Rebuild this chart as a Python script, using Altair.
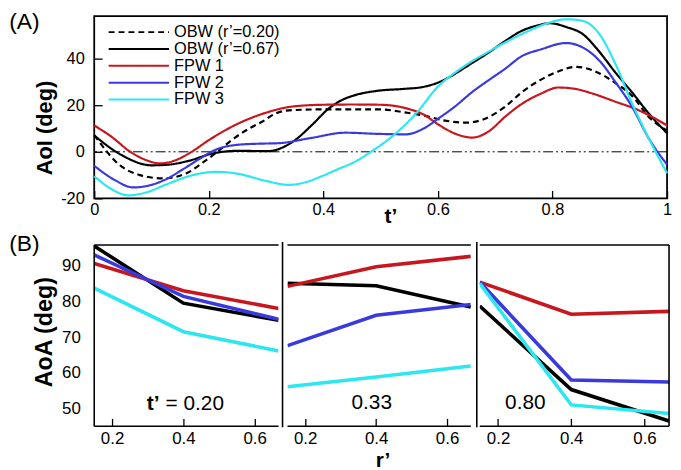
import altair as alt
import pandas as pd

FONT = "Liberation Sans"

# ---------------- Panel A: AoI vs t' ----------------
series_names = ["OBW (r’=0.20)", "OBW (r’=0.67)", "FPW 1", "FPW 2", "FPW 3"]
series_colors = ["#000000", "#000000", "#c8161e", "#3a3adc", "#2ce6f0"]
series_dashes = [[6, 4], [1, 0], [1, 0], [1, 0], [1, 0]]

obw020_t = [0, 0.047, 0.08, 0.12, 0.163, 0.19, 0.215, 0.244, 0.27, 0.293, 0.317, 0.34, 0.4, 0.45, 0.5,
            0.54, 0.573, 0.61, 0.648, 0.68, 0.717, 0.746, 0.78, 0.81, 0.841, 0.87, 0.91, 0.939, 0.968, 1.0]
obw020_v = [7.2, -6.2, -10, -11.4, -9, -4.5, 0, 5.8, 9.9, 12.9, 16.5, 17.8, 18.2, 18.2, 18.2,
            17, 15.7, 13.5, 12.5, 14, 19.3, 25.5, 31, 34.5, 36.5, 35, 29.5, 24, 15, 9]

obw067_t = [0, 0.047, 0.1, 0.13, 0.163, 0.209, 0.25, 0.305, 0.33, 0.351, 0.38, 0.409, 0.433, 0.455, 0.495,
            0.54, 0.573, 0.602, 0.63, 0.648, 0.689, 0.72, 0.746, 0.77, 0.795, 0.825, 0.853, 0.88, 0.91,
            0.939, 0.968, 1.0]
obw067_v = [7, -1.3, -5.8, -5.5, -4, -0.6, 0.4, 0.3, 2, 5.1, 11.5, 18.5, 22.3, 24.3, 26.2,
            27, 27.8, 29.9, 33.5, 36.3, 42.7, 48, 51.9, 54, 55.2, 53.5, 50.5, 43.5, 34,
            25.5, 16.5, 8]

fpw1_t = [0, 0.03, 0.063, 0.09, 0.115, 0.14, 0.17, 0.2, 0.242, 0.3, 0.345, 0.4, 0.45, 0.5, 0.544,
          0.575, 0.602, 0.63, 0.66, 0.69, 0.717, 0.746, 0.78, 0.81, 0.84, 0.87, 0.91, 0.945, 0.97, 1.0]
fpw1_v = [11.3, 6.5, 0, -3.5, -5, -3.8, 0, 5, 11, 16.8, 19.4, 20.2, 20.3, 20.2, 18.7,
          16, 11.5, 7.8, 6.1, 9, 15, 20.5, 25, 27.6, 27, 25, 21.5, 18.4, 15.5, 11.3]

fpw2_t = [0, 0.035, 0.068, 0.1, 0.126, 0.155, 0.184, 0.213, 0.25, 0.29, 0.322, 0.38, 0.438, 0.495, 0.544,
          0.575, 0.602, 0.63, 0.66, 0.69, 0.717, 0.746, 0.78, 0.824, 0.855, 0.882, 0.91, 0.939, 0.968, 1.0]
fpw2_v = [-6, -12, -15.3, -14.2, -11.7, -7.5, -3, 1, 3, 3.5, 3.7, 6, 8.2, 7.7, 7.5,
          10, 14.5, 19.5, 25.7, 31, 35.6, 41, 44, 46.7, 44.5, 39.1, 29.9, 19.3, 5.8, -5.5]

fpw3_t = [0, 0.03, 0.06, 0.09, 0.126, 0.165, 0.213, 0.25, 0.3, 0.34, 0.37, 0.397, 0.425, 0.455, 0.483,
          0.524, 0.562, 0.602, 0.63, 0.66, 0.69, 0.717, 0.746, 0.77, 0.795, 0.824, 0.853, 0.882, 0.91,
          0.939, 0.968, 1.0]
fpw3_v = [-10.5, -16, -18.7, -17.5, -14, -10.5, -8.6, -9.4, -12.5, -14.2, -13, -10.5, -7.5, -4.3, 0,
          7.4, 16.5, 28.5, 34, 39, 43.2, 46.9, 50.5, 53.2, 55.5, 56.9, 56.2, 50.5, 37.7,
          20.7, 5.8, -9.2]

top_x_ticks = [0, 0.2, 0.4, 0.6, 0.8, 1]
top_y_ticks = [-20, 0, 20, 40]

# ---------------- Panel B: AoA vs r' ----------------
rprime = [0.15, 0.4, 0.667]
bottom_groups = ["OBW", "FPW 1", "FPW 2", "FPW 3"]
bottom_colors = ["#000000", "#c8161e", "#3a3adc", "#2ce6f0"]
panel_keys = ["0.20", "0.33", "0.80"]

aoa_020 = {"OBW": [95.5, 79.5, 74.7], "FPW 1": [90.6, 83.0, 78.0],
           "FPW 2": [93.0, 81.4, 75.0], "FPW 3": [83.7, 71.5, 66.1]}
aoa_033 = {"OBW": [85.1, 84.4, 78.4], "FPW 1": [84.2, 89.7, 92.6],
           "FPW 2": [67.6, 76.1, 79.1], "FPW 3": [56.1, 58.8, 61.9]}
aoa_080 = {"OBW": [78.7, 55.3, 46.5], "FPW 1": [85.4, 76.4, 77.2],
           "FPW 2": [85.4, 58.0, 57.4], "FPW 3": [85.0, 51.0, 48.6]}
bottom_x_ticks = [0.2, 0.4, 0.6]
bottom_y_ticks = [50, 60, 70, 80, 90]

# ---------------- tables ----------------
rows = []
for name, ts, vs in zip(series_names, [obw020_t, obw067_t, fpw1_t, fpw2_t, fpw3_t],
                        [obw020_v, obw067_v, fpw1_v, fpw2_v, fpw3_v]):
    for t, v in zip(ts, vs):
        rows.append({"series": name, "t": t, "v": v})
df_top = pd.DataFrame(rows)

brows = []
for key, dct in zip(panel_keys, [aoa_020, aoa_033, aoa_080]):
    for g in bottom_groups:
        for r, a in zip(rprime, dct[g]):
            brows.append({"panel": key, "grp": g, "r": r, "a": a})
df_bot = pd.DataFrame(brows)

one = pd.DataFrame({"k": [0]})

# ---------------- top chart ----------------
W_TOP, H_TOP = 578, 184

# long horizontal legend stroke drawn as a custom path (small symbol box keeps rows compact)
leg = alt.Legend(orient="none", legendX=60, legendY=8, title=None,
                 symbolType="M-17.9,0H2.4", symbolSize=36, symbolStrokeWidth=2,
                 symbolFillColor="transparent",
                 labelFontSize=16.5, labelFont=FONT, labelOffset=4, rowPadding=0, padding=0,
                 labelLimit=300, labelColor="black")

top_lines = alt.Chart(df_top).mark_line(strokeWidth=2.2, interpolate="monotone").encode(
    x=alt.X("t:Q", title=None,
            scale=alt.Scale(domain=[0, 1], nice=False, zero=False),
            axis=alt.Axis(values=top_x_ticks, domain=False, grid=False, tickSize=8, offset=-8,
                          labelPadding=3, labelFontSize=16.5, labelFlush=False,
                          labelExpr="datum.value + ''")),
    y=alt.Y("v:Q", title=None,
            scale=alt.Scale(domain=[-20, 58.3], nice=False, zero=False),
            axis=alt.Axis(values=top_y_ticks, domain=False, grid=False, tickSize=8, offset=-8,
                          labelPadding=10, labelFontSize=16.5, labelFlush=False,
                          labelExpr="datum.value + ''")),
    color=alt.Color("series:N", scale=alt.Scale(domain=series_names, range=series_colors), legend=leg),
    strokeDash=alt.StrokeDash("series:N", scale=alt.Scale(domain=series_names, range=series_dashes),
                              legend=leg),
)

zero_line = alt.Chart(one).mark_rule(color="black", strokeWidth=1,
                                     strokeDash=[10, 3, 2, 3, 2, 3]).encode(y=alt.datum(0))


def label(text, x, y, size, bold=False, angle=0, align="left", baseline="alphabetic"):
    kw = dict(text=text, fontSize=size, font=FONT, align=align, baseline=baseline, color="black",
              fontWeight="bold" if bold else "normal")
    if angle:
        kw["angle"] = angle
    return alt.Chart(one).mark_text(**kw).encode(x=alt.value(x), y=alt.value(y))


top = alt.layer(
    zero_line,
    top_lines,
    label("(A)", -85.7, -5, 23, baseline="top"),
    label("AoI (deg)", -50, 113, 22, bold=True, angle=270, align="center", baseline="middle"),
    label("t’", 293, 209, 21, bold=True),
).properties(width=W_TOP, height=H_TOP,
             view=alt.ViewBackground(stroke="black", strokeWidth=1.8))

# ---------------- bottom panels ----------------
H_BOT = 183


def frame_h(y, w):
    return alt.Chart(one).mark_rule(color="black", strokeWidth=1.6).encode(
        x=alt.value(0), x2=alt.value(w), y=alt.value(y))


def frame_v(x, y1, y2):
    return alt.Chart(one).mark_rule(color="black", strokeWidth=1.6).encode(
        x=alt.value(x), y=alt.value(y1), y2=alt.value(y2))


def bottom_panel(key, w, first=False, last=False, sep=0):
    y_enc_kw = dict(title=None, scale=alt.Scale(domain=[45, 95.8], nice=False, zero=False))
    if first:
        y_enc_kw["axis"] = alt.Axis(values=bottom_y_ticks, ticks=False, domain=False, grid=False,
                                    labelPadding=14, labelFontSize=17)
    else:
        y_enc_kw["axis"] = None
    lines = alt.Chart(df_bot).transform_filter(alt.datum.panel == key).mark_line(
        strokeWidth=3.6, clip=True).encode(
        x=alt.X("r:Q", title=None, scale=alt.Scale(domain=[0.15, 0.667], nice=False, zero=False),
                axis=alt.Axis(values=bottom_x_ticks, domain=False, grid=False, tickSize=8, offset=-8,
                              labelPadding=4, labelFontSize=17, labelFlush=False,
                              labelExpr="datum.value + ''")),
        y=alt.Y("a:Q", **y_enc_kw),
        color=alt.Color("grp:N", scale=alt.Scale(domain=bottom_groups, range=bottom_colors), legend=None),
    )
    layers = [lines, frame_h(0, w), frame_h(H_BOT, w)]
    if first:
        layers.append(frame_v(0, 0, H_BOT))
    else:
        layers.append(frame_v(-sep, -3, H_BOT + 1))
    if last:
        layers.append(frame_v(w, 0, H_BOT))
    return layers


p1_layers = bottom_panel("0.20", 186, first=True)
p1_layers += [
    label("(B)", -85.7, -12, 23, baseline="top"),
    label("AoA (deg)", -50, 88, 23.5, bold=True, angle=270, align="center", baseline="middle"),
    label("t’", 53, 167, 21, bold=True),
    label("= 0.20", 72, 167, 21),
]
p1 = alt.layer(*p1_layers).properties(width=186, height=H_BOT)

p2_layers = bottom_panel("0.33", 185, sep=5)
p2_layers += [
    label("0.33", 85, 166, 21, align="center"),
    label("r’", 89, 224, 21, bold=True),
]
p2 = alt.layer(*p2_layers).properties(width=185, height=H_BOT)

p3_layers = bottom_panel("0.80", 191, last=True, sep=3)
p3_layers += [label("0.80", 46, 166, 21, align="center")]
p3 = alt.layer(*p3_layers).properties(width=191, height=H_BOT)

bottom = alt.hconcat(p1, p2, p3, spacing=9, bounds="flush").resolve_scale(
    x="independent", y="independent", color="independent")

chart = alt.vconcat(top, bottom, spacing=47, bounds="flush").resolve_scale(
    x="independent", y="independent", color="independent", strokeDash="independent"
).properties(padding=0).configure(font=FONT).configure_view(stroke=None).configure_axis(
    labelColor="black", tickColor="black", tickWidth=1.3, labelFont=FONT)

chart.save("out.html", embed_options={"renderer": "svg", "actions": False})
